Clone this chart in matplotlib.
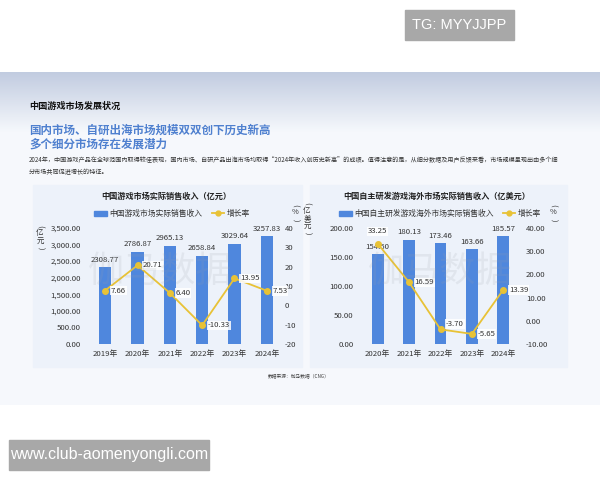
import matplotlib
matplotlib.use('Agg')
import matplotlib.pyplot as plt
import numpy as np
from matplotlib.patches import Rectangle, Patch
from matplotlib.lines import Line2D

plt.rcParams['font.family'] = ['Noto Sans CJK SC', 'DejaVu Sans']

# data
years1 = ['2019年', '2020年', '2021年', '2022年', '2023年', '2024年']
revenue1 = [2308.77, 2786.87, 2965.13, 2658.84, 3029.64, 3257.83]
growth1 = [7.66, 20.71, 6.40, -10.33, 13.95, 7.53]
lticks1 = [0, 500, 1000, 1500, 2000, 2500, 3000, 3500]
rticks1 = [-20, -10, 0, 10, 20, 30, 40]

years2 = ['2020年', '2021年', '2022年', '2023年', '2024年']
revenue2 = [154.50, 180.13, 173.46, 163.66, 185.57]
growth2 = [33.25, 16.59, -3.70, -5.65, 13.39]
lticks2 = [0, 50, 100, 150, 200]
rticks2 = [-10, 0, 10, 20, 30, 40]

title1 = '中国游戏市场实际销售收入（亿元）'
series1 = '中国游戏市场实际销售收入'
title2 = '中国自主研发游戏海外市场实际销售收入（亿美元）'
series2 = '中国自主研发游戏海外市场实际销售收入'

W, H = 600, 480
BLUE = '#4f87dd'
GOLD = '#e8c236'
PANEL = '#edf2fa'
TXT = '#333333'


def fr(l, t, r, b):
    return [l / W, 1 - b / H, (r - l) / W, (b - t) / H]


fig = plt.figure(figsize=(W / 100, H / 100), dpi=100)
bg = fig.add_axes([0, 0, 1, 1])
bg.set_xlim(0, W)
bg.set_ylim(H, 0)
bg.axis('off')

# slide background with a soft gradient at the top
grad = np.linspace(0, 1, 200)[:, None]
top = np.array([0.76, 0.80, 0.88])
mid = np.array([0.965, 0.975, 0.99])
w = np.clip(grad / 0.18, 0, 1)
img = (top * (1 - w) + mid * w)[:, None, :].repeat(2, axis=1)
bg.imshow(img, extent=[0, W, 405, 72], aspect='auto', zorder=0)

# header texts
bg.text(29, 106, '中国游戏市场发展状况', fontsize=6.6, weight='bold', color='#111111', va='center')
bg.text(29, 130, '国内市场、自研出海市场规模双双创下历史新高', fontsize=8.3, weight='bold',
        color='#4f80cf', va='center')
bg.text(29, 144, '多个细分市场存在发展潜力', fontsize=8.3, weight='bold', color='#4f80cf', va='center')
bg.text(29, 160, '2024年，中国游戏产品在全球范围内取得较佳表现，国内市场、自研产品出海市场均取得“2024年收入创历史新高”'
        '的成绩。值得注意的是，从细分数据及用户反馈来看，市场规模呈现出由多个细',
        fontsize=4.4, color='#333333', va='center')
bg.text(29, 172, '分市场共同促进增长的特征。', fontsize=4.4, color='#333333', va='center')

# chart panels
bg.add_patch(Rectangle((33, 185), 269, 182, color=PANEL, zorder=1))
bg.add_patch(Rectangle((310, 185), 257, 182, color=PANEL, zorder=1))

bg.text(299, 376, '数据来源：伽马数据（CNG）', fontsize=3.4, color='#444444', ha='center', va='center')

# overlay boxes
bg.add_patch(Rectangle((405, 10), 109, 30, color='#a8a8a8', zorder=5))
bg.text(459.5, 25, 'TG: MYYJJPP', fontsize=10.5, color='white', ha='center', va='center',
        family='Liberation Sans', zorder=6)
bg.add_patch(Rectangle((9, 440), 200, 30, color='#a8a8a8', zorder=5))
bg.text(109, 455, 'www.club-aomenyongli.com', fontsize=11.5, color='white', ha='center', va='center',
        family='Liberation Sans', zorder=6)


def vertical_label(x, y_top, chars, step=7.5):
    # stacked characters, brackets turned to vertical form
    for k, ch in enumerate(chars):
        rot = -90 if ch in '()' else 0
        bg.text(x, y_top + k * step, ch, fontsize=5.4, color=TXT, ha='center', va='center',
                rotation=rot, zorder=3)


def draw_chart(rect, years, revenue, growth, lticks, rticks, lfmt, rfmt, rpad, title, series,
               title_xy, legend_xy, unit_l, unit_r, offsets):
    ax = fig.add_axes(fr(*rect))
    x = np.arange(len(years))
    ax.bar(x, revenue, width=0.38, color=BLUE, zorder=2)
    ax.set_xlim(-0.5, len(years) - 0.5)
    ax.set_ylim(lticks[0], lticks[-1])
    ax.set_yticks(lticks, [lfmt(v) for v in lticks])
    ax.set_xticks(x, years)
    ax.patch.set_alpha(0)
    for s in ax.spines.values():
        s.set_visible(False)
    ax.tick_params(axis='y', length=0, labelsize=5.6, colors=TXT, pad=6)
    ax.tick_params(axis='x', length=0, labelsize=5.6, colors=TXT, pad=4)
    for i, v in enumerate(revenue):
        ax.annotate(f'{v:.2f}', (i, v), xytext=(0, 2.5), textcoords='offset points',
                    ha='center', va='bottom', fontsize=5.6, color=TXT)

    ax2 = ax.twinx()
    ax2.plot(x, growth, color=GOLD, marker='o', ms=4, lw=1.3, zorder=3)
    ax2.set_ylim(rticks[0], rticks[-1])
    ax2.set_yticks(rticks, [rfmt(v) for v in rticks])
    for s in ax2.spines.values():
        s.set_visible(False)
    ax2.tick_params(axis='y', length=0, labelsize=5.6, colors=TXT, pad=rpad)
    for i, v in enumerate(growth):
        dx, dy, ha, va = offsets[i]
        ax2.annotate(f'{v:.2f}', (i, v), xytext=(dx, dy), textcoords='offset points',
                     ha=ha, va=va, fontsize=5.6, color=TXT,
                     bbox=dict(boxstyle='square,pad=0.1', fc='white', ec='none', alpha=0.85))

    bg.text(title_xy[0], title_xy[1], title, fontsize=5.9, weight='bold', color='#222222',
            ha='center', va='center')
    handles = [Patch(color=BLUE), Line2D([], [], color=GOLD, marker='o', ms=3.5, lw=1.3)]
    ax.legend(handles, [series, '增长率'], loc='center', ncol=2, frameon=False,
              bbox_to_anchor=(legend_xy[0] / W, 1 - legend_xy[1] / H),
              bbox_transform=fig.transFigure, fontsize=5.6, handlelength=1.6, handleheight=0.6,
              handletextpad=0.3, columnspacing=1.2, labelcolor=TXT)
    vertical_label(unit_l[0], unit_l[1], unit_l[2])
    vertical_label(unit_r[0], unit_r[1], '(%)')
    return ax


draw_chart((89, 228, 283, 344), years1, revenue1, growth1, lticks1, rticks1,
           lambda v: f'{v:,.2f}', lambda v: f'{v:d}', 1, title1, series1,
           (166, 196), (172, 214), (40, 226, '(亿元)'), (295, 205),
           [(4, 0, 'left', 'center')] * 6)

draw_chart((362, 228, 519, 344), years2, revenue2, growth2, lticks2, rticks2,
           lambda v: f'{v:.2f}', lambda v: f'{v:.2f}', 5, title2, series2,
           (437, 196), (440, 214), (307, 203, '(亿美元)'), (553, 205),
           [(0, 6, 'center', 'bottom'), (4, 0, 'left', 'center'), (4, 4, 'left', 'center'),
            (4, 0, 'left', 'center'), (4, 0, 'left', 'center')])

# watermark
for cx in (160, 440):
    fig.text(cx / W, 1 - 272 / H, '伽马数据', fontsize=26, color='#9aa0a8', alpha=0.15,
             ha='center', va='center', zorder=10)

fig.savefig('out.png', dpi=100)
